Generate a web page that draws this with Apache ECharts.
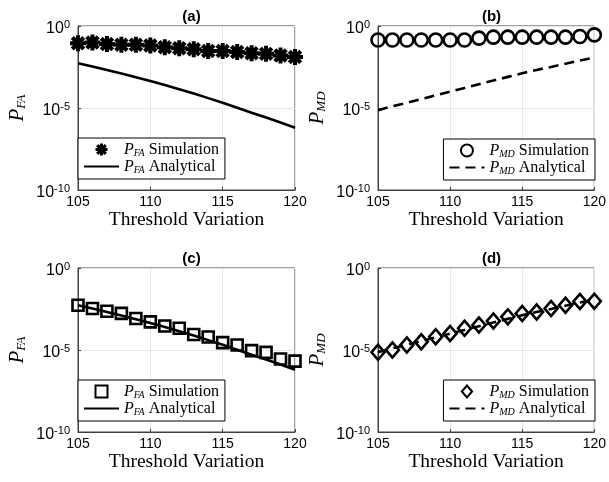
<!DOCTYPE html>
<html>
<head>
<meta charset="utf-8">
<script src="https://cdn.jsdelivr.net/npm/echarts@6/dist/echarts.min.js"></script>
<style>
  html, body { margin: 0; padding: 0; background: #fff; }
  #chart { width: 609px; height: 482px; }
</style>
</head>
<body>
<div id="chart"></div>
<script>
// threshold values on the x axis
const thresholds = [105, 106, 107, 108, 109, 110, 111, 112, 113, 114, 115, 116, 117, 118, 119, 120];
const xTicks = [105, 110, 115, 120];
const yTicks = [1e-10, 1e-5, 1];

// (a) false alarm, simulation vs analytical
const pfaSimA = [0.089, 0.098, 0.081, 0.071, 0.071, 0.065, 0.051, 0.044, 0.038, 0.030, 0.030, 0.026, 0.022, 0.020, 0.016, 0.013];
const pfaAnalytical = [5.4e-3, 3.4e-3, 2.1e-3, 1.26e-3, 7.6e-4, 4.5e-4, 2.5e-4, 1.38e-4, 7.6e-5, 4.0e-5, 2.1e-5, 1.05e-5, 5.2e-6, 2.6e-6, 1.29e-6, 6.2e-7];
// (b) missed detection
const pmdSimB = [0.141, 0.141, 0.141, 0.141, 0.141, 0.141, 0.141, 0.182, 0.209, 0.209, 0.209, 0.209, 0.209, 0.209, 0.229, 0.288];
const pmdAnalytical = [7.4e-6, 1.26e-5, 2.1e-5, 3.5e-5, 6.0e-5, 1.0e-4, 1.66e-4, 2.8e-4, 4.7e-4, 7.9e-4, 1.32e-3, 2.1e-3, 3.2e-3, 5.0e-3, 7.8e-3, 1.17e-2];
// (c) false alarm, corrected simulation
const pfaSimC = [5.4e-3, 3.4e-3, 2.3e-3, 1.7e-3, 8.3e-4, 5.2e-4, 2.9e-4, 2.1e-4, 8.9e-5, 6.2e-5, 2.8e-5, 2.0e-5, 9.1e-6, 7.2e-6, 2.8e-6, 2.1e-6];
// (d) missed detection, corrected simulation
const pmdSimD = [7.2e-6, 1.0e-5, 2.0e-5, 3.2e-5, 6.5e-5, 1.02e-4, 2.1e-4, 3.3e-4, 5.8e-4, 1.05e-3, 1.7e-3, 2.1e-3, 3.4e-3, 5.4e-3, 9.0e-3, 9.5e-3];

const panelTitles = ['(a)', '(b)', '(c)', '(d)'];

// marker shapes (MATLAB style)
const starPath = 'path://M0 7.5L20 7.5L20 12.5L0 12.5Z M12.5 0L12.5 20L7.5 20L7.5 0Z M4.7 0.96L19.04 15.3L15.3 19.04L0.96 4.7Z M19.04 4.7L4.7 19.04L0.96 15.3L15.3 0.96Z';
const squarePath = 'path://M0 0L10 0L10 10L0 10Z';
const diamondPath = 'path://M6 0L12 7L6 14L0 7Z';

const serif = '"Liberation Serif", "Times New Roman", serif';
const sans = '"Liberation Sans", Arial, Helvetica, sans-serif';

const grids = [
    { left: 78, top: 26, width: 217, height: 164 },
    { left: 378, top: 26, width: 217, height: 164 },
    { left: 78, top: 268, width: 217, height: 164 },
    { left: 378, top: 268, width: 217, height: 164 }
];

function toPairs(ys) {
    return thresholds.map((x, i) => [x, ys[i]]);
}

const subRich = {
    i: { fontFamily: serif, fontStyle: 'italic', fontSize: 16, color: '#000', verticalAlign: 'bottom', lineHeight: 17 },
    s: { fontFamily: serif, fontStyle: 'italic', fontSize: 10, color: '#000', verticalAlign: 'bottom', lineHeight: 12 },
    t: { fontFamily: serif, fontSize: 16, color: '#000', verticalAlign: 'bottom', lineHeight: 17 }
};

const legendText = {
    aSim: '{i|P}{s|FA}{t| Simulation}',
    aAna: '{i|P}{s|FA}{t| Analytical}',
    bSim: '{i|P}{s|MD}{t| Simulation}',
    bAna: '{i|P}{s|MD}{t| Analytical}',
    cSim: '{i|P}{s|FA}{t| Simulation}',
    cAna: '{i|P}{s|FA}{t| Analytical}',
    dSim: '{i|P}{s|MD}{t| Simulation}',
    dAna: '{i|P}{s|MD}{t| Analytical}'
};

const yNames = ['{i|P}{s|FA}', '{i|P}{s|MD}', '{i|P}{s|FA}', '{i|P}{s|MD}'];

const xAxes = grids.map((g, k) => ({
    type: 'value',
    gridIndex: k,
    min: 105,
    max: 120,
    interval: 5,
    name: 'Threshold Variation',
    nameLocation: 'middle',
    nameGap: 17,
    nameTextStyle: { fontFamily: serif, fontSize: 19.5, color: '#000', lineHeight: 20 },
    axisLine: { show: true, lineStyle: { color: '#404040', width: 1 } },
    axisTick: { show: true, inside: true, length: 3, lineStyle: { color: '#404040' } },
    axisLabel: {
        fontFamily: sans, fontSize: 14, color: '#000', margin: 5,
        formatter: v => xTicks.indexOf(v) >= 0 ? String(v) : ''
    },
    splitLine: { show: true, lineStyle: { color: '#e6e6e6', width: 1 } }
}));

const yAxes = grids.map((g, k) => ({
    type: 'log',
    logBase: 10,
    gridIndex: k,
    min: yTicks[0],
    max: yTicks[2],
    interval: 5,
    name: yNames[k],
    nameLocation: 'middle',
    nameGap: 50,
    nameTextStyle: { rich: {
        i: { fontFamily: serif, fontStyle: 'italic', fontSize: 21, color: '#000', verticalAlign: 'bottom', lineHeight: 22 },
        s: { fontFamily: serif, fontStyle: 'italic', fontSize: 13, color: '#000', verticalAlign: 'bottom', lineHeight: 16 }
    } },
    axisLine: { show: true, lineStyle: { color: '#404040', width: 1 } },
    axisTick: { show: true, inside: true, length: 3, lineStyle: { color: '#404040' } },
    minorTick: { show: false },
    axisLabel: {
        margin: 8,
        formatter: v => '{b|10}{p|' + Math.round(Math.log10(v)) + '}',
        rich: {
            b: { fontFamily: sans, fontSize: 16, color: '#000', verticalAlign: 'middle', lineHeight: 16, padding: [6, 0, 0, 0] },
            p: { fontFamily: sans, fontSize: 11, color: '#000', verticalAlign: 'middle', lineHeight: 11, padding: [0, 0, 3, 0] }
        }
    },
    splitLine: { show: true, lineStyle: { color: '#e6e6e6', width: 1 } }
}));

function simSeries(name, k, ys, symbol, size, filled) {
    return {
        name: name,
        type: 'scatter',
        xAxisIndex: k,
        yAxisIndex: k,
        data: toPairs(ys),
        symbol: symbol,
        symbolSize: size,
        itemStyle: filled
            ? { color: '#000', borderWidth: 0, opacity: 1 }
            : { color: 'rgba(255,255,255,0)', borderColor: '#000', borderWidth: 2.6, opacity: 1 },
        emphasis: { disabled: true },
        z: 3
    };
}

function anaSeries(name, k, ys, dashed) {
    return {
        name: name,
        type: 'line',
        xAxisIndex: k,
        yAxisIndex: k,
        data: toPairs(ys),
        symbol: 'none',
        lineStyle: { color: '#000', width: 2.6, type: dashed ? [10, 6] : 'solid' },
        itemStyle: { color: 'rgba(0,0,0,0)' },
        emphasis: { disabled: true },
        z: 4
    };
}

const series = [
    simSeries('aSim', 0, pfaSimA, starPath, 16, true),
    anaSeries('aAna', 0, pfaAnalytical, false),
    simSeries('bSim', 1, pmdSimB, 'circle', 13, false),
    anaSeries('bAna', 1, pmdAnalytical, true),
    simSeries('cSim', 2, pfaSimC, squarePath, 11, false),
    anaSeries('cAna', 2, pfaAnalytical, false),
    simSeries('dSim', 3, pmdSimD, diamondPath, [13, 15], false),
    anaSeries('dAna', 3, pmdAnalytical, true)
];

function makeLegend(names, pos) {
    return Object.assign({
        orient: 'vertical',
        data: [
            { name: names[0] },
            { name: names[1], itemStyle: { opacity: 0 } }
        ],
        itemWidth: 35,
        itemHeight: 12,
        itemGap: 1,
        padding: [4, 6, 4, 5],
        backgroundColor: '#fff',
        borderColor: '#000',
        borderWidth: 1,
        borderRadius: 0,
        selectedMode: false,
        formatter: n => legendText[n],
        textStyle: { rich: subRich }
    }, pos);
}

const option = {
    backgroundColor: '#fff',
    animation: false,
    title: panelTitles.map((t, k) => ({
        text: t,
        left: grids[k].left + grids[k].width / 2,
        top: grids[k].top - 22,
        textAlign: 'center',
        textStyle: { fontFamily: sans, fontSize: 15, fontWeight: 'bold', color: '#000' }
    })),
    grid: grids.map(g => Object.assign({ show: true, borderColor: '#404040', borderWidth: 1, backgroundColor: '#fff' }, g)),
    xAxis: xAxes,
    yAxis: yAxes,
    legend: [
        makeLegend(['aSim', 'aAna'], { left: 78, top: 138 }),
        makeLegend(['bSim', 'bAna'], { right: 14, top: 139 }),
        makeLegend(['cSim', 'cAna'], { left: 78, top: 380 }),
        makeLegend(['dSim', 'dAna'], { right: 14, top: 380 })
    ],
    series: series
};

const chart = echarts.init(document.getElementById('chart'), null, { renderer: 'canvas' });
chart.setOption(option);
</script>
</body>
</html>
